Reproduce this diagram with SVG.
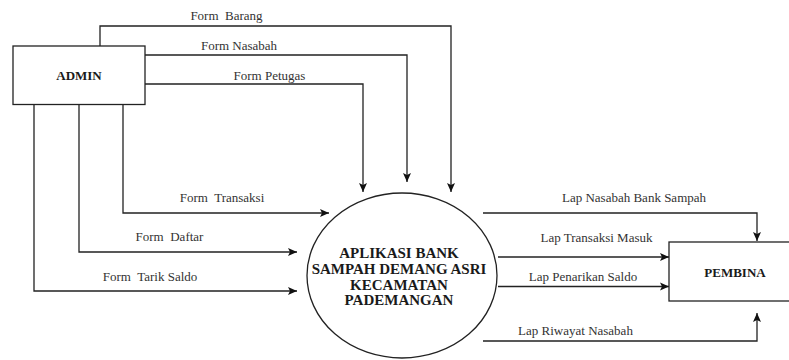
<svg xmlns="http://www.w3.org/2000/svg" width="789" height="360" viewBox="0 0 789 360">
<style>
.box{fill:#fff;stroke:#222;stroke-width:1.3}
.ttl{font-family:'Liberation Serif',serif;font-weight:bold;fill:#1a1a1a;text-anchor:middle}
.lbl{font-family:'Liberation Serif',serif;font-size:13px;fill:#333;text-anchor:middle;white-space:pre}
.ln{fill:none;stroke:#222;stroke-width:1.3;marker-end:url(#arr)}
</style>
<defs>
<marker id="arr" markerUnits="userSpaceOnUse" markerWidth="10" markerHeight="9" refX="9" refY="4.5" orient="auto">
<path d="M0,0.5 L9,4.5 L0,8.5 L2,4.5 Z" fill="#111"/>
</marker>
</defs>
<rect width="789" height="360" fill="#fff"/>
<g id="connectors">
<path class="ln" d="M100 46 V26 H451 V192"/>
<path class="ln" d="M145 55 H407 V182"/>
<path class="ln" d="M145 84 H363 V192"/>
<path class="ln" d="M123 104 V213 H329"/>
<path class="ln" d="M79 104 V252 H297"/>
<path class="ln" d="M34 104 V291 H297"/>
<path class="ln" d="M483 213 H757 V241"/>
<path class="ln" d="M498 257 H669"/>
<path class="ln" d="M498 286.5 H669"/>
<path class="ln" d="M483 341 H757 V313"/>
<text class="lbl" x="226.5" y="20" xml:space="preserve">Form  Barang</text>
<text class="lbl" x="239" y="49.5">Form Nasabah</text>
<text class="lbl" x="269.5" y="79.5">Form Petugas</text>
<text class="lbl" x="222" y="201.5" xml:space="preserve">Form  Transaksi</text>
<text class="lbl" x="169.5" y="241" xml:space="preserve">Form  Daftar</text>
<text class="lbl" x="150" y="281" xml:space="preserve">Form  Tarik Saldo</text>
<text class="lbl" x="634" y="202">Lap Nasabah Bank Sampah</text>
<text class="lbl" x="596.5" y="241.5">Lap Transaksi Masuk</text>
<text class="lbl" x="583" y="281">Lap Penarikan Saldo</text>
<text class="lbl" x="575.5" y="335">Lap Riwayat Nasabah</text>
</g>
<g id="admin">
<rect class="box" x="13" y="46" width="132" height="58.5"/>
<text class="ttl" x="79" y="79.5" font-size="13">ADMIN</text>
</g>
<g id="aplikasi">
<ellipse class="box" cx="402" cy="275.5" rx="95" ry="82.5"/>
<text class="ttl" font-size="15" x="399" y="258">APLIKASI BANK</text>
<text class="ttl" font-size="15" x="399" y="274">SAMPAH DEMANG ASRI</text>
<text class="ttl" font-size="15" x="399" y="290">KECAMATAN</text>
<text class="ttl" font-size="15" x="399" y="305">PADEMANGAN</text>
</g>
<g id="pembina">
<rect class="box" x="669" y="242" width="132" height="59"/>
<text class="ttl" x="735" y="276.5" font-size="13">PEMBINA</text>
</g>
</svg>
